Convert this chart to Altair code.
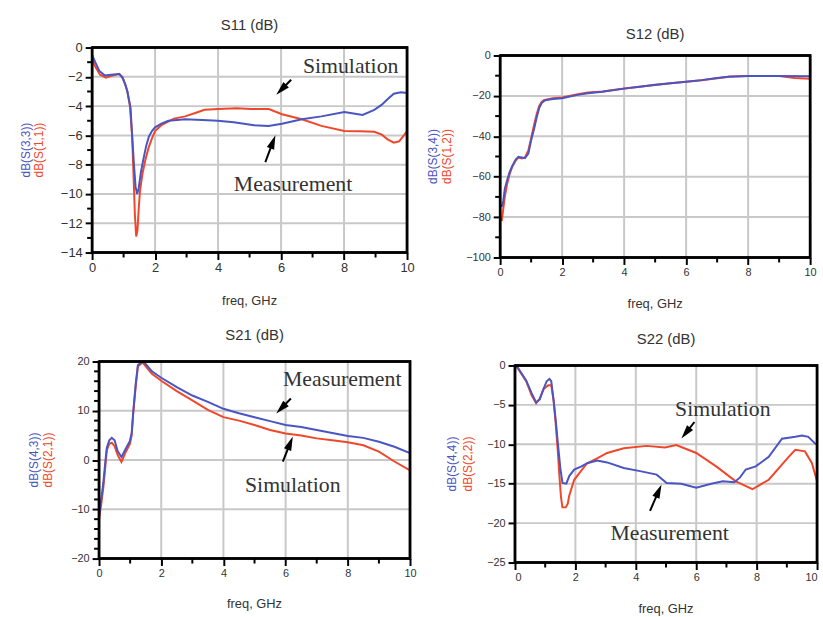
import math
import pandas as pd
import altair as alt

BLUE = "#4a55c2"
RED = "#f0472b"
GRID = "#c8c8c8"
INK = "#333333"
SANS = "Liberation Sans"
SERIF = "Liberation Serif"

# ---------------- S11 ----------------
s11_meas_f = [0, 0.1, 0.23, 0.4, 0.6, 0.86, 0.96, 1.05, 1.12, 1.22, 1.27, 1.33, 1.38, 1.43, 1.48, 1.55, 1.64, 1.72,
              1.8, 1.9, 2.0, 2.2, 2.42, 2.7, 2.95, 3.5, 3.99, 4.5, 5.14, 5.6, 6.03, 6.66, 7.28, 8.01, 8.3, 8.59, 8.96,
              9.2, 9.37, 9.58, 9.8, 10]
s11_meas_db = [-0.5, -1.0, -1.6, -1.9, -1.85, -1.8, -2.05, -2.5, -3.0, -4.1, -6.0, -8.0, -9.5, -10.0, -9.6, -8.5, -7.5,
               -6.7, -6.1, -5.7, -5.45, -5.2, -5.0, -4.95, -4.9, -4.95, -5.0, -5.1, -5.3, -5.35, -5.2, -4.9, -4.7,
               -4.4, -4.5, -4.6, -4.25, -3.9, -3.55, -3.15, -3.05, -3.1]
s11_sim_f = [0, 0.1, 0.25, 0.44, 0.6, 0.86, 0.96, 1.05, 1.12, 1.2, 1.27, 1.32, 1.36, 1.4, 1.44, 1.48, 1.52, 1.6, 1.7,
             1.8, 1.9, 2.0, 2.2, 2.6, 2.95, 3.3, 3.57, 4.0, 4.6, 5.04, 5.61, 6.03, 6.66, 7.28, 8.01, 8.5, 8.96, 9.2,
             9.37, 9.58, 9.75, 9.9, 10]
s11_sim_db = [-0.8, -1.3, -1.85, -2.05, -1.95, -1.8, -2.0, -2.5, -3.0, -4.0, -6.0, -9.0, -11.5, -12.9, -12.5, -11.0,
              -9.8, -8.6, -7.6, -6.8, -6.2, -5.7, -5.3, -4.85, -4.7, -4.45, -4.25, -4.2, -4.15, -4.2, -4.2, -4.55,
              -4.9, -5.35, -5.7, -5.72, -5.75, -5.95, -6.25, -6.5, -6.4, -6.0, -5.7]

# ---------------- S12 ----------------
s12_meas_f = [0.05, 0.1, 0.15, 0.22, 0.3, 0.38, 0.5, 0.59, 0.7, 0.8, 0.91, 1.0, 1.1, 1.18, 1.26, 1.34, 1.42, 1.5, 1.7,
              2.0, 2.5, 2.83, 3.3, 4.0, 4.5, 5.0, 5.5, 6.0, 6.5, 7.0, 7.4, 8.0, 9.0, 10]
s12_meas_db = [-75, -72, -66, -62, -58, -55, -51.5, -50.2, -50.5, -50.8, -48.6, -42, -36, -30.6, -26, -23.5, -22.5,
               -22, -21.5, -21.2, -19.5, -18.7, -18, -16.4, -15.5, -14.5, -13.8, -13.0, -12.2, -11.2, -10.5, -10.2,
               -10.2, -10.3]
s12_sim_f = [0.05, 0.1, 0.15, 0.22, 0.3, 0.38, 0.5, 0.59, 0.7, 0.8, 0.91, 1.0, 1.1, 1.18, 1.26, 1.34, 1.42, 1.5, 1.7,
             2.0, 2.5, 2.83, 3.3, 4.0, 4.5, 5.0, 5.5, 6.0, 6.5, 7.0, 7.4, 8.0, 9.0, 9.5, 10]
s12_sim_db = [-82, -76, -70, -64, -59, -55.5, -52, -50.5, -51, -50.5, -47, -41, -34, -29, -25, -23, -22, -21.8, -21.2,
              -20.8, -19.2, -18.3, -17.8, -16.3, -15.5, -14.6, -13.8, -13.0, -12.3, -11.3, -10.4, -10.2, -10.2,
              -11.2, -11.5]

# ---------------- S21 ----------------
s21_f = [0, 0.07, 0.14, 0.2, 0.25, 0.33, 0.41, 0.5, 0.6, 0.72, 0.85, 0.99, 1.05, 1.1, 1.18, 1.25, 1.4, 1.5, 1.7, 2.0,
         2.5, 3.0, 3.5, 4.0, 4.5, 5.0, 5.5, 6.0, 6.5, 7.0, 7.5, 8.0, 8.5, 9.0, 9.5, 10]
s21_meas_db = [-11, -8, -4.5, -0.5, 2.5, 4.0, 4.5, 4.0, 1.8, 0.6, 2.2, 3.8, 5.5, 9.8, 15.5, 19.3, 20.0, 19.5, 18.0,
               16.7, 14.8, 13.1, 11.8, 10.4, 9.5, 8.7, 7.9, 7.1, 6.7, 6.1, 5.5, 4.9, 4.5, 3.7, 2.7, 1.4]
s21_sim_db = [-12, -9, -5.5, -1.5, 2.0, 3.3, 3.5, 2.8, 1.0, -0.4, 1.5, 3.2, 5.0, 9.5, 15, 19, 19.8, 19.0, 17.5, 16.1,
              14.0, 12.1, 10.2, 8.7, 8.0, 7.1, 6.1, 5.4, 5.0, 4.4, 4.0, 3.6, 3.0, 1.7, -0.3, -2.1]

# ---------------- S22 ----------------
s22_meas_f = [0, 0.1, 0.37, 0.55, 0.7, 0.82, 0.92, 1.05, 1.14, 1.2, 1.28, 1.35, 1.41, 1.5, 1.57, 1.7, 1.8, 1.96, 2.2,
              2.39, 2.72, 3.05, 3.6, 4.14, 4.69, 5.02, 5.5, 6.0, 6.5, 6.88, 7.26, 7.45, 7.64, 7.97, 8.4, 8.84, 9.28,
              9.5, 9.71, 9.93, 10]
s22_meas_db = [0, -0.3, -1.9, -3.5, -4.7, -4.3, -3.2, -2.0, -1.7, -2.0, -4.5, -7.0, -9.5, -13.0, -14.9, -15.0, -14.0,
               -13.2, -12.8, -12.4, -12.05, -12.3, -13.0, -13.4, -13.85, -14.9, -15.0, -15.5, -15.0, -14.7, -14.8,
               -14.2, -13.2, -12.8, -11.6, -9.3, -9.05, -8.9, -9.05, -9.9, -10.0]
s22_sim_f = [0, 0.1, 0.37, 0.55, 0.7, 0.82, 0.95, 1.1, 1.2, 1.28, 1.35, 1.41, 1.47, 1.52, 1.57, 1.68, 1.75, 1.79,
             1.96, 2.2, 2.39, 2.72, 3.05, 3.6, 4.36, 4.96, 5.34, 6.0, 6.66, 7.31, 7.86, 8.4, 9.06, 9.28, 9.6, 9.83, 10]
s22_sim_db = [0, -0.4, -2.0, -3.8, -4.8, -4.2, -3.0, -2.5, -2.5, -4.5, -7.5, -10.5, -14.0, -16.6, -18.0, -18.0, -17.5,
              -16.6, -14.5, -13.3, -12.4, -11.8, -11.1, -10.5, -10.2, -10.4, -10.1, -11.1, -12.8, -14.7, -15.7, -14.5,
              -11.6, -10.7, -10.9, -12.4, -14.7]

# ---------------- annotations (data coordinates) ----------------
s11_notes = ["Simulation", "Measurement"]
s11_note_f = [8.21, 6.38]
s11_note_db = [-1.25, -9.32]
s11_tail_f = [6.32, 5.5]
s11_tail_db = [-2.2, -7.83]
s11_head_f = [5.85, 5.82]
s11_head_db = [-3.22, -6.0]

s21_notes = ["Measurement", "Simulation"]
s21_note_f = [7.82, 6.23]
s21_note_db = [16.5, -5.0]
s21_tail_f = [6.17, 5.91]
s21_tail_db = [12.5, -0.3]
s21_head_f = [5.7, 6.23]
s21_head_db = [9.45, 4.75]

s22_notes = ["Simulation", "Measurement"]
s22_note_f = [6.88, 5.12]
s22_note_db = [-5.5, -21.2]
s22_tail_f = [5.94, 4.47]
s22_tail_db = [-7.17, -18.45]
s22_head_f = [5.51, 4.85]
s22_head_db = [-9.26, -15.1]

x_major = [0, 2, 4, 6, 8, 10]
x_minor = [1, 3, 5, 7, 9]

ARROW_PATH = "M0,-1L0.55,1L-0.55,1Z"


def panel(title, ytitle_b, ytitle_r, meas, sim, ydom, ymajor, yminor, W, H, origin, inner, tile,
          label_size, title_dy, xlabel_dy, yt_off, notes=None, flush=False):
    ox, oy = inner                      # data rectangle offset inside the view
    VW, VH = ox + W, oy + H             # view size
    x0, y0 = origin                     # view origin on the page
    tx1, ty1, tx2, ty2 = tile           # page tile owned by this panel
    lo, hi = ydom
    xs = alt.Scale(domain=[0, 10], nice=False, zero=False, range=[ox, ox + W])
    ys = alt.Scale(domain=ydom, nice=False, zero=False, range=[oy + H, oy])
    xaxis = alt.Axis(values=x_major, title=None, grid=False, domain=False,
                     tickSize=7, tickWidth=2, tickColor="black", labelFont=SANS, labelFontSize=label_size,
                     labelColor=INK, labelPadding=2, labelOverlap=False, format="d", labelFlush=flush)
    yaxis = alt.Axis(values=ymajor, title=None, grid=False, domain=False,
                     tickSize=7, tickWidth=2, tickColor="black", labelFont=SANS, labelFontSize=label_size,
                     labelColor=INK, labelPadding=3, labelOverlap=False, format="d", offset=-ox)

    def X(field):
        return alt.X(f"{field}:Q", scale=xs, axis=xaxis)

    def Y(field):
        return alt.Y(f"{field}:Q", scale=ys, axis=yaxis)

    one = pd.DataFrame({"t": [title]})
    layers = []
    # invisible rectangle that fixes this panel's outer bounds to its page tile
    layers.append(alt.Chart(one).mark_rect(opacity=0).encode(
        x=alt.value(tx1 - x0), x2=alt.value(tx2 - x0), y=alt.value(ty1 - y0), y2=alt.value(ty2 - y0)))

    # grid lines at the inner major ticks (drawn below the curves)
    xin = [v for v in x_major if 0 < v < 10]
    yin = [v for v in ymajor if lo < v < hi]
    gx = pd.DataFrame({"f": xin, "lo": [lo] * len(xin), "hi": [hi] * len(xin)})
    layers.append(alt.Chart(gx).mark_rule(color=GRID, strokeWidth=2).encode(x=X("f"), y=Y("lo"), y2="hi"))
    gy = pd.DataFrame({"db": yin, "a": [0] * len(yin), "b": [10] * len(yin)})
    layers.append(alt.Chart(gy).mark_rule(color=GRID, strokeWidth=2).encode(y=Y("db"), x=X("a"), x2="b"))

    sim_df = pd.DataFrame({"f": sim[0], "db": sim[1]})
    meas_df = pd.DataFrame({"f": meas[0], "db": meas[1]})
    layers.append(alt.Chart(sim_df).mark_line(color=RED, strokeWidth=2).encode(x=X("f"), y=Y("db")))
    layers.append(alt.Chart(meas_df).mark_line(color=BLUE, strokeWidth=2).encode(x=X("f"), y=Y("db")))

    # minor ticks
    layers.append(alt.Chart(pd.DataFrame({"f": x_minor})).mark_rule(color="black", strokeWidth=2).encode(
        x=X("f"), y=alt.value(VH), y2=alt.value(VH + 5)))
    if yminor:
        layers.append(alt.Chart(pd.DataFrame({"db": yminor})).mark_rule(color="black", strokeWidth=2).encode(
            y=Y("db"), x=alt.value(ox), x2=alt.value(ox - 5)))

    # frame: closed polyline around the data domain, plus a stroked rect
    corners = pd.DataFrame({"i": [0, 1, 2, 3, 4], "f": [0, 10, 10, 0, 0], "db": [hi, hi, lo, lo, hi]})
    layers.append(alt.Chart(corners).mark_line(color="black", strokeWidth=2.5, strokeJoin="miter").encode(
        x=X("f"), y=Y("db"), order=alt.Order("i:Q")))
    box = pd.DataFrame({"a": [0], "b": [10], "lo": [lo], "hi": [hi]})
    layers.append(alt.Chart(box).mark_rect(fill="white", fillOpacity=0, stroke="black", strokeWidth=2.5,
                                           strokeOpacity=1).encode(x=X("a"), x2="b", y=Y("lo"), y2="hi"))

    layers.append(alt.Chart(one).mark_text(font=SANS, fontSize=15, color=INK, baseline="middle").encode(
        text="t:N", x=alt.value(ox + W / 2), y=alt.value(oy + title_dy)))
    layers.append(alt.Chart(pd.DataFrame({"t": ["freq, GHz"]})).mark_text(
        font=SANS, fontSize=13, color=INK, baseline="middle").encode(
        text="t:N", x=alt.value(ox + W / 2), y=alt.value(oy + H + xlabel_dy)))
    layers.append(alt.Chart(pd.DataFrame({"t": [ytitle_b]})).mark_text(
        font=SANS, fontSize=12, color=BLUE, angle=270, baseline="middle", align="center").encode(
        text="t:N", x=alt.value(ox + yt_off[0]), y=alt.value(oy + H / 2)))
    layers.append(alt.Chart(pd.DataFrame({"t": [ytitle_r]})).mark_text(
        font=SANS, fontSize=12, color=RED, angle=270, baseline="middle", align="center").encode(
        text="t:N", x=alt.value(ox + yt_off[1]), y=alt.value(oy + H / 2)))

    if notes is not None:
        labels, nf, ndb, tf, tdb, hf, hdb = notes
        layers.append(alt.Chart(pd.DataFrame({"t": labels, "f": nf, "db": ndb})).mark_text(
            font=SERIF, fontSize=22, color=INK, baseline="middle").encode(text="t:N", x=X("f"), y=Y("db")))
        sx = W / 10.0
        sy = H / (hi - lo)
        rows = []
        for a, b, c, d in zip(tf, tdb, hf, hdb):
            dx = (c - a) * sx
            dy = -(d - b) * sy
            Lp = math.hypot(dx, dy)
            k = 7.0 / Lp
            ang = math.degrees(math.atan2(dx, -dy)) % 360
            rows.append({"tf": a, "tdb": b, "cf": c - k * (c - a), "cdb": d - k * (d - b), "ang": ang})
        adf = pd.DataFrame(rows)
        layers.append(alt.Chart(adf).mark_rule(color="black", strokeWidth=2).encode(
            x=X("tf"), y=Y("tdb"), x2="cf", y2="cdb"))
        layers.append(alt.Chart(adf).mark_point(shape=ARROW_PATH, filled=True, color="black", opacity=1,
                                                size=200, strokeWidth=0).encode(
            x=X("cf"), y=Y("cdb"), angle=alt.Angle("ang:Q", scale=None)))

    return alt.layer(*layers).properties(width=VW, height=VH)


p1 = panel("S11 (dB)", "dB(S(3,3))", "dB(S(1,1))", (s11_meas_f, s11_meas_db), (s11_sim_f, s11_sim_db),
           [-14, 0], [0, -2, -4, -6, -8, -10, -12, -14], [-1, -3, -5, -7, -9, -11, -13], 318, 207,
           (92, 44), (0, 0), (0, 0, 420, 318), 13, -23, 49, (-67, -54),
           (s11_notes, s11_note_f, s11_note_db, s11_tail_f, s11_tail_db, s11_head_f, s11_head_db))
p2 = panel("S12 (dB)", "dB(S(3,4))", "dB(S(1,2))", (s12_meas_f, s12_meas_db), (s12_sim_f, s12_sim_db),
           [-100, 0], [0, -20, -40, -60, -80, -100], [-10, -30, -50, -70, -90], 313, 204,
           (502, 44), (0, 8), (420, 0, 823, 318), 11, -22, 47, (-68, -54))
p3 = panel("S21 (dB)", "dB(S(4,3))", "dB(S(2,1))", (s21_f, s21_meas_db), (s21_f, s21_sim_db),
           [-20, 20], [20, 10, 0, -10, -20], [-18, -16, -14, -12, -8, -6, -4, -2, 2, 4, 6, 8, 12, 14, 16, 18],
           314, 199, (92, 359), (7, 0), (0, 318, 430, 617), 11, -27, 46, (-66, -51),
           (s21_notes, s21_note_f, s21_note_db, s21_tail_f, s21_tail_db, s21_head_f, s21_head_db))
p4 = panel("S22 (dB)", "dB(S(4,4))", "dB(S(2,2))", (s22_meas_f, s22_meas_db), (s22_sim_f, s22_sim_db),
           [-25, 0], [0, -5, -10, -15, -20, -25], [], 305, 199, (517, 359), (0, 4), (430, 318, 823, 617),
           11, -27, 47, (-64, -47),
           (s22_notes, s22_note_f, s22_note_db, s22_tail_f, s22_tail_db, s22_head_f, s22_head_db), flush=True)

top = alt.hconcat(p1, p2, spacing=0)
bottom = alt.hconcat(p3, p4, spacing=0)

chart = alt.vconcat(top, bottom, spacing=0).properties(
    padding={"left": 0, "top": 0, "right": 0, "bottom": 0},
    background="white",
).configure_view(stroke="transparent")

chart.save("out.html", embed_options={"renderer": "svg", "actions": False})
